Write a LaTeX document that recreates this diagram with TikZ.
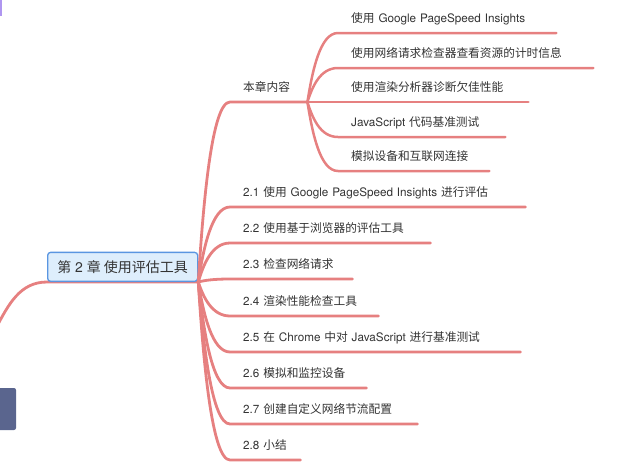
\documentclass[tikz,border=0pt]{standalone}
\usepackage{fontspec}
\setmainfont{TeX Gyre Heros}
\newfontfamily\cjk{Noto Sans CJK SC}
\newcommand{\zh}[1]{{\cjk #1}}
\usetikzlibrary{backgrounds,calc}
\definecolor{branchred}{RGB}{230,128,128}
\definecolor{rootfill}{RGB}{222,238,252}
\definecolor{rootline}{RGB}{90,150,225}
\definecolor{labelgray}{RGB}{51,51,51}
\definecolor{slate}{RGB}{90,101,142}
\definecolor{lilac}{RGB}{175,150,240}
\tikzset{
  topic/.style={anchor=south west, inner xsep=13pt, inner ysep=7pt,
    text height=9pt, text depth=3pt, align=left, text=labelgray,
    font=\fontsize{11.7}{14}\selectfont},
  rootbox/.style={anchor=south west, draw=rootline, fill=rootfill,
    line width=1.3pt, rounded corners=3pt, inner sep=0pt,
    minimum width=150pt, minimum height=29pt, text=labelgray,
    font=\fontsize{14}{16}\selectfont},
  branch/.style={draw=branchred, line width=2.8pt, line cap=round},
  swoop/.style={to path={.. controls
    ($(\tikztostart)!.45!(\tikztostart|-\tikztotarget)+(5pt,0)$) and
    ($(\tikztotarget)+(-18pt,0)$) .. (\tikztotarget)}}
}
\begin{document}
\begin{tikzpicture}[x=1pt, y=-1pt]
\useasboundingbox (0,0) rectangle (620,474);
% bits of neighbouring topics at the left edge
\fill[lilac] (0,0) rectangle (2,16);
\fill[slate, rounded corners=2pt] (-6,388) rectangle (16,430);

\node[rootbox] (root) at (47,282) {\zh{第} 2 \zh{章 使用评估工具}};
\coordinate (offleft) at (-4,328);
\begin{scope}[on background layer]
  \draw[branch] (offleft) to[out=62, in=180] (root.south west) -- (root.south east);
\end{scope}

% chapter sections
\foreach \n/\y/\len/\txt in {
  s0/102/77/{\zh{本章内容}},
  s21/207/295/{2.1 \zh{使用} Google PageSpeed Insights \zh{进行评估}},
  s22/243/200/{2.2 \zh{使用基于浏览器的评估工具}},
  s23/279/122/{2.3 \zh{检查网络请求}},
  s24/316/148/{2.4 \zh{渲染性能检查工具}},
  s25/352/290/{2.5 \zh{在} Chrome \zh{中对} JavaScript \zh{进行基准测试}},
  s26/388/136/{2.6 \zh{模拟和监控设备}},
  s27/424/187/{2.7 \zh{创建自定义网络节流配置}},
  s28/460/70/{2.8 \zh{小结}}}{
  \pgfmathsetmacro\tw{\len-26}
  \node[topic, text width=\tw pt] (\n) at (230,\y) {\mbox{\txt}};
  \draw[branch, swoop] (root.south east) to (\n.south west) -- (\n.south east);
}

% what the chapter covers
\foreach \n/\y/\len/\txt in {
  c1/33/218/{\zh{使用} Google PageSpeed Insights},
  c2/68/255/{\zh{使用网络请求检查器查看资源的计时信息}},
  c3/102/190/{\zh{使用渲染分析器诊断欠佳性能}},
  c4/137/167/{JavaScript \zh{代码基准测试}},
  c5/171/151/{\zh{模拟设备和互联网连接}}}{
  \pgfmathsetmacro\tw{\len-26}
  \node[topic, text width=\tw pt] (\n) at (338,\y) {\mbox{\txt}};
  \draw[branch, line width=2.5pt, swoop] (s0.south east) to (\n.south west) -- (\n.south east);
}
\end{tikzpicture}
\end{document}
